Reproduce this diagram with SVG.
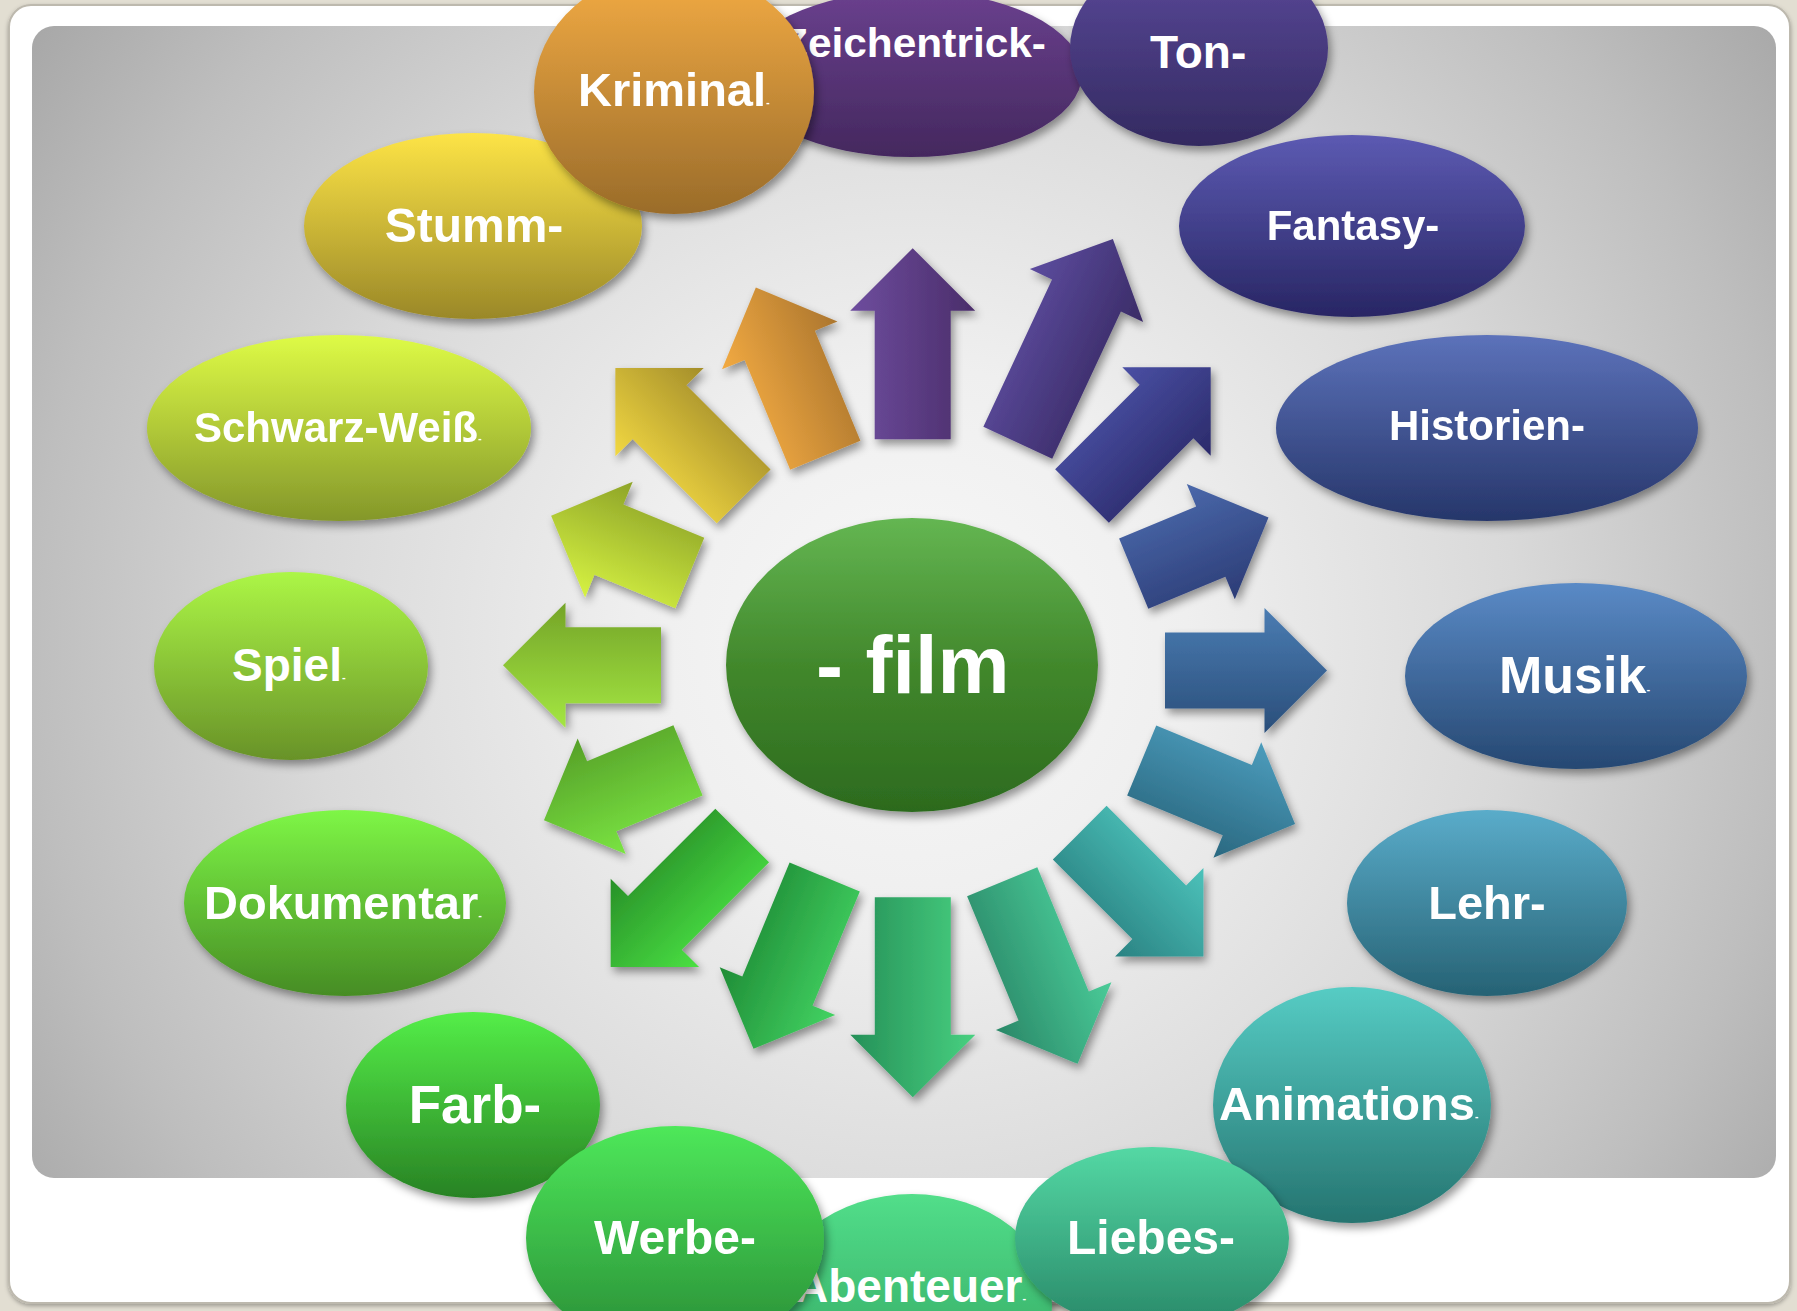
<svg xmlns="http://www.w3.org/2000/svg" width="1797" height="1311" viewBox="0 0 1797 1311">
<style>
.t{font-family:"Liberation Sans",Arial,sans-serif;font-weight:bold;fill:#ffffff}
.m{text-anchor:middle}
.d{font-size:11px}
</style>
<defs>
<filter id="sh" x="-20%" y="-20%" width="150%" height="150%"><feDropShadow dx="3" dy="5" stdDeviation="4" flood-color="#000" flood-opacity="0.4"/></filter>
<filter id="fs" x="-5%" y="-5%" width="110%" height="110%"><feDropShadow dx="0" dy="2" stdDeviation="2" flood-color="#000" flood-opacity="0.3"/></filter>
<radialGradient id="bg" gradientUnits="userSpaceOnUse" cx="912" cy="640" r="1100">
<stop offset="0" stop-color="#f8f8f8"/><stop offset="0.25" stop-color="#efefef"/><stop offset="0.55" stop-color="#d9d9d9"/><stop offset="0.8" stop-color="#bebebe"/><stop offset="1" stop-color="#a4a4a4"/>
</radialGradient>
<linearGradient id="gZei" x1="0" y1="0" x2="0" y2="1"><stop offset="0" stop-color="#6a408e"/><stop offset="1" stop-color="#44285e"/></linearGradient>
<linearGradient id="gTon" x1="0" y1="0" x2="0" y2="1"><stop offset="0" stop-color="#5c4a9c"/><stop offset="1" stop-color="#332a60"/></linearGradient>
<linearGradient id="gKri" x1="0" y1="0" x2="0" y2="1"><stop offset="0" stop-color="#f4ac44"/><stop offset="1" stop-color="#9a6c2a"/></linearGradient>
<linearGradient id="gStu" x1="0" y1="0" x2="0" y2="1"><stop offset="0" stop-color="#fde446"/><stop offset="1" stop-color="#9a8828"/></linearGradient>
<linearGradient id="gSch" x1="0" y1="0" x2="0" y2="1"><stop offset="0" stop-color="#defb46"/><stop offset="1" stop-color="#84972a"/></linearGradient>
<linearGradient id="gSpi" x1="0" y1="0" x2="0" y2="1"><stop offset="0" stop-color="#acf646"/><stop offset="1" stop-color="#689228"/></linearGradient>
<linearGradient id="gDok" x1="0" y1="0" x2="0" y2="1"><stop offset="0" stop-color="#7ef646"/><stop offset="1" stop-color="#468c24"/></linearGradient>
<linearGradient id="gFar" x1="0" y1="0" x2="0" y2="1"><stop offset="0" stop-color="#54ee48"/><stop offset="1" stop-color="#288224"/></linearGradient>
<linearGradient id="gWer" x1="0" y1="0" x2="0" y2="1"><stop offset="0" stop-color="#4ee85a"/><stop offset="1" stop-color="#288c36"/></linearGradient>
<linearGradient id="gAbe" x1="0" y1="0" x2="0" y2="1"><stop offset="0" stop-color="#52de8a"/><stop offset="1" stop-color="#2e9e5c"/></linearGradient>
<linearGradient id="gLie" x1="0" y1="0" x2="0" y2="1"><stop offset="0" stop-color="#54d8a4"/><stop offset="1" stop-color="#288868"/></linearGradient>
<linearGradient id="gAni" x1="0" y1="0" x2="0" y2="1"><stop offset="0" stop-color="#56ccc4"/><stop offset="1" stop-color="#257470"/></linearGradient>
<linearGradient id="gLeh" x1="0" y1="0" x2="0" y2="1"><stop offset="0" stop-color="#5aacca"/><stop offset="1" stop-color="#266274"/></linearGradient>
<linearGradient id="gMus" x1="0" y1="0" x2="0" y2="1"><stop offset="0" stop-color="#5a8ac6"/><stop offset="1" stop-color="#264872"/></linearGradient>
<linearGradient id="gHis" x1="0" y1="0" x2="0" y2="1"><stop offset="0" stop-color="#5c72ba"/><stop offset="1" stop-color="#26366a"/></linearGradient>
<linearGradient id="gFan" x1="0" y1="0" x2="0" y2="1"><stop offset="0" stop-color="#5c5ab2"/><stop offset="1" stop-color="#282664"/></linearGradient>
<linearGradient id="gFilm" x1="0" y1="0" x2="0" y2="1"><stop offset="0" stop-color="#64b652"/><stop offset="0.5" stop-color="#42882c"/><stop offset="1" stop-color="#2c6a1e"/></linearGradient>
<linearGradient id="a1"><stop offset="0" stop-color="#6e4d9e"/><stop offset="1" stop-color="#4a2d6a"/></linearGradient>
<linearGradient id="a2"><stop offset="0" stop-color="#5c4c9e"/><stop offset="1" stop-color="#3a2b66"/></linearGradient>
<linearGradient id="a3"><stop offset="0" stop-color="#4a50a4"/><stop offset="1" stop-color="#2b2a6a"/></linearGradient>
<linearGradient id="a4"><stop offset="0" stop-color="#4a68aa"/><stop offset="1" stop-color="#2c3c76"/></linearGradient>
<linearGradient id="a5"><stop offset="0" stop-color="#4a7cb2"/><stop offset="1" stop-color="#2a4e7a"/></linearGradient>
<linearGradient id="a6"><stop offset="0" stop-color="#4c9cbc"/><stop offset="1" stop-color="#2a6880"/></linearGradient>
<linearGradient id="a7"><stop offset="0" stop-color="#4cc2ba"/><stop offset="1" stop-color="#2a8282"/></linearGradient>
<linearGradient id="a8"><stop offset="0" stop-color="#4acb98"/><stop offset="1" stop-color="#2a8868"/></linearGradient>
<linearGradient id="a9"><stop offset="0" stop-color="#48d080"/><stop offset="1" stop-color="#259058"/></linearGradient>
<linearGradient id="a10"><stop offset="0" stop-color="#42d262"/><stop offset="1" stop-color="#1f8c36"/></linearGradient>
<linearGradient id="a11"><stop offset="0" stop-color="#4ae043"/><stop offset="1" stop-color="#289028"/></linearGradient>
<linearGradient id="a12"><stop offset="0" stop-color="#7ae442"/><stop offset="1" stop-color="#56a028"/></linearGradient>
<linearGradient id="a13"><stop offset="0" stop-color="#a4e642"/><stop offset="1" stop-color="#74a428"/></linearGradient>
<linearGradient id="a14"><stop offset="0" stop-color="#d6f242"/><stop offset="1" stop-color="#8ea428"/></linearGradient>
<linearGradient id="a15"><stop offset="0" stop-color="#f2d842"/><stop offset="1" stop-color="#a48e2a"/></linearGradient>
<linearGradient id="a16"><stop offset="0" stop-color="#f2aa42"/><stop offset="1" stop-color="#ac762e"/></linearGradient>
</defs>

<g id="frame">
<rect x="0" y="0" width="1797" height="1311" fill="#e2ded2"/>
<rect x="9" y="5" width="1781" height="1298" rx="22" fill="#ffffff" stroke="#bdb9ae" stroke-width="2" filter="url(#fs)"/>
<rect x="32" y="26" width="1744" height="1152" rx="22" fill="url(#bg)"/>
</g>

<g id="connectors">
<g filter="url(#sh)">
<path fill="url(#a1)" transform="translate(912.7,439.3) rotate(0)" d="M-38,0V-128.5H-62.5L0,-191L62.5,-128.5H38V0Z"/>
<path fill="url(#a2)" transform="translate(1017.8,442.8) rotate(25)" d="M-38,0V-162.5H-62.5L0,-225L62.5,-162.5H38V0Z"/>
<path fill="url(#a3)" transform="translate(1082,496) rotate(45)" d="M-38,0V-119.5H-62.5L0,-182L62.5,-119.5H38V0Z"/>
<path fill="url(#a4)" transform="translate(1133.7,573.7) rotate(67.4)" d="M-38,0V-83.5H-62.5L0,-146L62.5,-83.5H38V0Z"/>
<path fill="url(#a5)" transform="translate(1165,670.5) rotate(90)" d="M-38,0V-99.5H-62.5L0,-162L62.5,-99.5H38V0Z"/>
<path fill="url(#a6)" transform="translate(1141.7,760.5) rotate(112.5)" d="M-38,0V-103.5H-62.5L0,-166L62.5,-103.5H38V0Z"/>
<path fill="url(#a7)" transform="translate(1079.7,832.7) rotate(135)" d="M-38,0V-112.5H-62.5L0,-175L62.5,-112.5H38V0Z"/>
<path fill="url(#a8)" transform="translate(1002.2,881.8) rotate(157.5)" d="M-38,0V-134.5H-62.5L0,-197L62.5,-134.5H38V0Z"/>
<path fill="url(#a9)" transform="translate(912.8,897.3) rotate(180)" d="M-38,0V-137.5H-62.5L0,-200L62.5,-137.5H38V0Z"/>
<path fill="url(#a10)" transform="translate(824.7,877) rotate(202.5)" d="M-38,0V-123.5H-62.5L0,-186L62.5,-123.5H38V0Z"/>
<path fill="url(#a11)" transform="translate(742.2,835.5) rotate(225)" d="M-38,0V-123.5H-62.5L0,-186L62.5,-123.5H38V0Z"/>
<path fill="url(#a12)" transform="translate(688,760.3) rotate(247.4)" d="M-38,0V-93.5H-62.5L0,-156L62.5,-93.5H38V0Z"/>
<path fill="url(#a13)" transform="translate(661,665.3) rotate(270)" d="M-38,0V-95.5H-62.5L0,-158L62.5,-95.5H38V0Z"/>
<path fill="url(#a14)" transform="translate(689.8,573) rotate(292.4)" d="M-38,0V-87.5H-62.5L0,-150L62.5,-87.5H38V0Z"/>
<path fill="url(#a15)" transform="translate(743.7,496.3) rotate(315)" d="M-38,0V-119H-62.5L0,-181.5L62.5,-119H38V0Z"/>
<path fill="url(#a16)" transform="translate(825.3,455.3) rotate(337.5)" d="M-38,0V-119H-62.5L0,-181.5L62.5,-119H38V0Z"/>
</g>
</g>

<g id="node-film">
<ellipse cx="912" cy="665" rx="186" ry="147" fill="url(#gFilm)" filter="url(#sh)"/>
<text class="t" x="816" y="693" font-size="81">- film</text>
</g>

<g id="node-zeichentrick">
<ellipse cx="911" cy="74" rx="171" ry="83" fill="url(#gZei)" filter="url(#sh)"/>
<text class="t" x="782" y="57" font-size="41" textLength="264" lengthAdjust="spacingAndGlyphs">Zeichentrick-</text>
</g>
<g id="node-ton">
<ellipse cx="1199" cy="48" rx="129" ry="98" fill="url(#gTon)" filter="url(#sh)"/>
<text class="t" x="1150" y="68" font-size="46">Ton-</text>
</g>
<g id="node-stumm">
<ellipse cx="473" cy="226" rx="169" ry="93" fill="url(#gStu)" filter="url(#sh)"/>
<text class="t m" x="474" y="242" font-size="48">Stumm-</text>
</g>
<g id="node-kriminal">
<ellipse cx="674" cy="92" rx="140" ry="122" fill="url(#gKri)" filter="url(#sh)"/>
<text class="t" x="578" y="106" font-size="47">Kriminal<tspan class="d">-</tspan></text>
</g>
<g id="node-schwarzweiss">
<ellipse cx="339" cy="428" rx="192" ry="93" fill="url(#gSch)" filter="url(#sh)"/>
<text class="t" x="194" y="442" font-size="42">Schwarz-Weiß<tspan class="d">-</tspan></text>
</g>
<g id="node-spiel">
<ellipse cx="291" cy="666" rx="137" ry="94" fill="url(#gSpi)" filter="url(#sh)"/>
<text class="t" x="232" y="681" font-size="46">Spiel<tspan class="d">-</tspan></text>
</g>
<g id="node-dokumentar">
<ellipse cx="345" cy="903" rx="161" ry="93" fill="url(#gDok)" filter="url(#sh)"/>
<text class="t" x="204" y="919" font-size="47">Dokumentar<tspan class="d">-</tspan></text>
</g>
<g id="node-farb">
<ellipse cx="473" cy="1105" rx="127" ry="93" fill="url(#gFar)" filter="url(#sh)"/>
<text class="t m" x="475" y="1123" font-size="53">Farb-</text>
</g>
<g id="node-abenteuer">
<ellipse cx="912" cy="1305" rx="140" ry="111" fill="url(#gAbe)" filter="url(#sh)"/>
<text class="t" x="795" y="1302" font-size="46">Abenteuer<tspan class="d">-</tspan></text>
</g>
<g id="node-werbe">
<ellipse cx="675" cy="1238" rx="149" ry="112" fill="url(#gWer)" filter="url(#sh)"/>
<text class="t m" x="675" y="1254" font-size="48">Werbe-</text>
</g>
<g id="node-animations">
<ellipse cx="1352" cy="1105" rx="139" ry="118" fill="url(#gAni)" filter="url(#sh)"/>
<text class="t" x="1219" y="1120" font-size="47">Animations<tspan class="d">-</tspan></text>
</g>
<g id="node-liebes">
<ellipse cx="1152" cy="1238" rx="137" ry="91" fill="url(#gLie)" filter="url(#sh)"/>
<text class="t m" x="1151" y="1254" font-size="48">Liebes-</text>
</g>
<g id="node-lehr">
<ellipse cx="1487" cy="903" rx="140" ry="93" fill="url(#gLeh)" filter="url(#sh)"/>
<text class="t m" x="1487" y="919" font-size="47">Lehr-</text>
</g>
<g id="node-musik">
<ellipse cx="1576" cy="676" rx="171" ry="93" fill="url(#gMus)" filter="url(#sh)"/>
<text class="t" x="1499" y="693" font-size="52">Musik<tspan class="d">-</tspan></text>
</g>
<g id="node-historien">
<ellipse cx="1487" cy="428" rx="211" ry="93" fill="url(#gHis)" filter="url(#sh)"/>
<text class="t m" x="1487" y="440" font-size="42">Historien-</text>
</g>
<g id="node-fantasy">
<ellipse cx="1352" cy="226" rx="173" ry="91" fill="url(#gFan)" filter="url(#sh)"/>
<text class="t m" x="1353" y="240" font-size="42">Fantasy-</text>
</g>
</svg>
